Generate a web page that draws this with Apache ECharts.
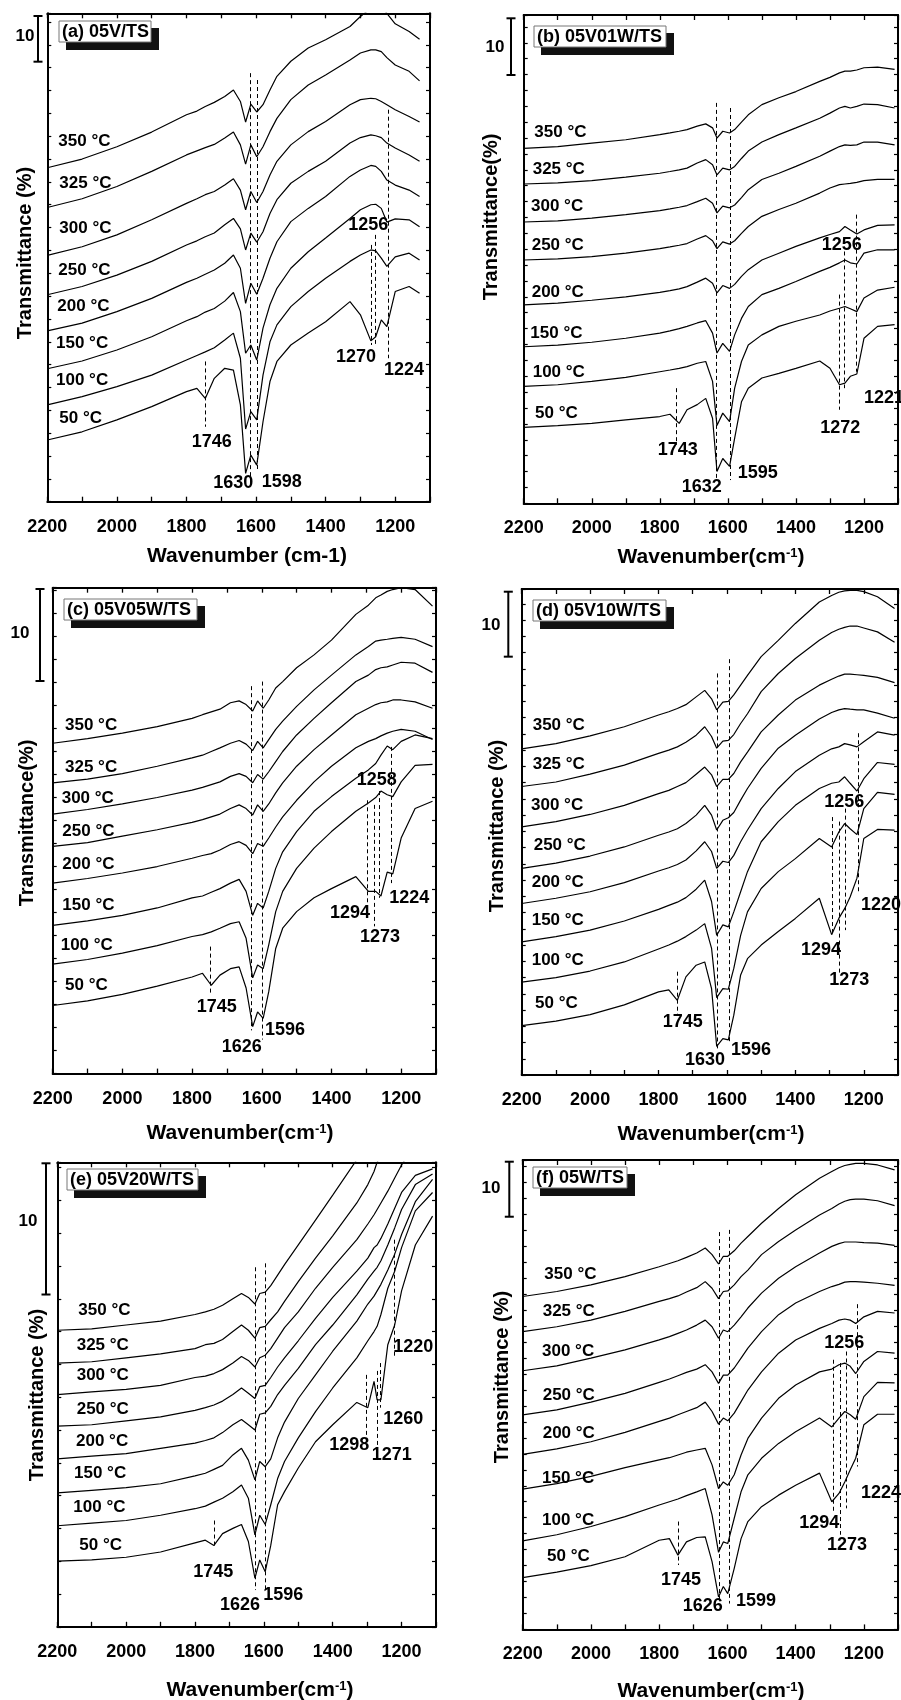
<!DOCTYPE html>
<html><head><meta charset="utf-8">
<script src="https://cdn.jsdelivr.net/npm/echarts/dist/echarts.min.js"></script>
<style>html,body{margin:0;padding:0;background:#fff}#c{width:901px;height:1700px}</style>
</head><body><div id="c"></div>
<script>
// ---------------- DATA ----------------
const tempLabels = ['350 °C','325 °C','300 °C','250 °C','200 °C','150 °C','100 °C','50 °C'];

// (a) 05V/TS
const wnA = [2200,2100,2000,1900,1800,1770,1746,1720,1690,1665,1645,1630,1615,1598,1580,1560,1540,1500,1450,1400,1330,1300,1270,1256,1240,1224,1200,1160,1130];
const a350 = [73.1,75.0,77.7,80.9,84.7,85.5,86.5,87.4,88.7,90.1,87.6,83.1,87.0,85.3,86.9,90.1,93.1,96.4,99.3,101.1,104.0,106.2,108.0,108.6,108.4,106.9,104.6,102.9,101.2];
const a325 = [64.4,66.3,69.0,72.3,75.9,76.8,77.5,78.2,79.6,80.9,78.1,73.9,78.1,75.5,77.7,81.0,83.9,88.0,91.2,93.4,96.7,98.2,98.9,98.9,98.5,97.2,95.6,94.2,92.1];
const a300 = [53.9,55.8,58.4,61.7,65.3,66.3,67.2,67.9,69.3,70.7,68.2,63.9,67.9,65.5,67.9,71.5,74.5,78.1,81.0,83.2,86.9,88.0,88.3,88.2,87.6,86.9,85.8,84.3,83.1];
const a250 = [45.3,47.1,49.6,52.6,56.2,57.1,58.0,58.8,60.6,62.0,59.7,55.1,58.8,56.8,59.1,63.1,66.1,69.7,72.3,74.5,78.5,79.7,80.3,80.1,79.7,78.5,77.4,75.9,74.5];
const a200 = [37.4,39.1,41.6,44.5,48.0,48.9,49.8,50.7,52.2,54.0,51.1,43.4,47.8,45.4,48.9,53.3,56.9,61.3,64.2,66.8,71.2,72.6,73.6,73.4,72.3,70.4,69.3,68.2,66.8];
const a150 = [29.1,30.8,33.2,36.1,39.6,40.5,41.5,42.3,43.9,45.8,41.6,32.5,34.3,31.0,38.0,43.1,46.7,51.1,54.7,57.7,62.0,63.9,65.0,65.1,64.2,61.2,61.9,61.7,60.2];
const a100 = [21.2,23.0,25.2,27.7,31.0,32.0,32.8,33.7,35.4,36.9,31.4,15.9,19.7,17.9,27.7,35.0,38.7,42.7,46.0,48.9,52.6,54.0,55.1,54.9,53.3,51.5,53.6,54.4,52.9];
const a50  = [13.5,15.3,17.9,20.8,24.1,24.8,22.6,27.0,29.2,28.8,21.2,6.2,10.2,8.0,17.5,26.3,30.7,34.3,36.9,39.4,43.8,40.9,35.2,36.1,39.8,38.3,46.0,47.1,45.6];
const dashA = [[1618,93.8,3.6],[1596,92.3,6.6],[1746,30.7,16.4],[1270,56.2,34.3],[1258,58.4,33.9],[1219,85.8,31.4]];
const peakA = ['1746','1630','1598','1270','1224','1256'];

// (b) 05V01W/TS
const wnB = [2200,2100,2000,1900,1800,1770,1743,1720,1690,1665,1645,1632,1615,1595,1580,1560,1540,1500,1450,1400,1330,1300,1272,1256,1240,1221,1200,1160,1110];
const b350 = [62.6,62.9,63.5,64.1,65.0,65.3,65.6,65.9,66.5,66.9,66.2,64.4,65.6,65.3,65.9,67.2,68.5,70.3,71.5,72.6,74.4,75.1,75.9,76.2,76.2,76.4,76.8,76.9,76.5];
const b325 = [56.3,56.5,56.9,57.5,58.2,58.5,58.8,59.1,60.0,60.6,59.7,57.9,59.1,58.8,59.4,60.8,62.1,63.7,65.0,66.2,67.9,68.8,69.7,70.0,69.7,70.0,70.4,70.3,69.7];
const b300 = [49.6,49.8,50.3,50.9,51.6,51.9,52.2,52.5,53.2,53.8,52.9,51.2,52.4,52.1,52.6,53.9,55.3,57.1,58.2,59.4,61.2,62.1,62.9,63.2,63.1,63.2,63.7,63.7,63.2];
const b250 = [42.9,43.1,43.5,44.1,44.9,45.2,45.5,45.8,46.6,47.2,46.3,44.9,46.1,45.7,46.3,47.6,48.8,50.6,51.8,52.9,54.7,55.6,56.2,56.3,56.4,56.6,56.9,57.1,57.1];
const b200 = [35.0,35.3,35.8,36.4,37.2,37.5,37.8,38.2,39.0,39.7,38.8,37.1,38.4,37.9,38.6,40.0,41.2,42.9,44.1,45.3,46.8,47.4,47.9,48.8,48.2,47.5,48.2,49.0,49.1];
const b150 = [27.6,27.9,28.4,29.1,30.0,30.4,30.8,31.2,31.8,32.2,30.0,26.5,28.2,26.8,29.7,32.6,34.7,36.8,37.9,39.1,40.9,41.6,42.4,42.9,42.4,42.2,44.1,44.7,44.7];
const b100 = [20.6,20.9,21.5,22.2,23.2,23.5,23.8,24.1,24.7,25.0,21.5,13.7,15.9,14.4,20.3,25.0,27.9,29.7,31.2,32.1,33.2,33.9,34.4,34.7,34.3,33.8,36.2,37.6,38.1];
const b50  = [13.4,13.7,14.1,14.7,15.3,15.7,14.1,16.5,17.4,18.5,15.0,5.6,7.9,6.5,11.5,17.9,20.3,22.1,22.9,23.8,25.1,23.8,20.9,21.2,22.4,22.8,29.1,31.2,31.5];
const dashB = [[1634,70.6,4.4],[1593,69.7,4.1],[1752,20.3,10.3],[1274,36.8,16.5],[1258,44.4,20.3],[1224,50.9,23.2]];
const peakB = ['1743','1632','1595','1272','1256','1221'];

// (c) 05V05W/TS
const wnC = [2200,2100,2000,1900,1800,1770,1745,1720,1690,1665,1645,1626,1612,1596,1580,1560,1540,1500,1450,1400,1330,1294,1273,1258,1240,1224,1200,1160,1110];
const c350 = [35.9,36.4,37.0,37.7,38.6,39.0,39.3,39.6,40.3,40.5,40.1,39.4,40.5,39.7,40.6,41.9,42.6,44.1,45.5,47.1,49.9,50.9,51.7,52.0,52.4,52.6,52.8,52.6,50.8];
const c325 = [31.6,32.0,32.6,33.4,34.3,34.6,35.0,35.4,35.9,36.2,35.8,35.1,36.1,35.4,36.3,37.4,38.3,39.9,41.7,43.3,45.5,46.4,47.0,47.1,47.2,47.3,47.4,47.2,46.4];
const c300 = [28.2,28.7,29.3,30.0,30.8,31.1,31.4,31.7,32.3,32.6,32.3,31.6,32.5,32.0,32.8,33.9,35.0,36.8,38.6,40.3,42.6,43.3,43.9,44.1,44.2,44.4,44.7,44.6,43.6];
const c250 = [24.7,25.1,25.8,26.5,27.3,27.6,27.9,28.2,28.8,29.2,28.8,28.1,29.2,28.5,29.3,30.5,31.6,33.4,35.2,36.8,39.0,39.7,40.1,40.3,40.4,40.6,40.6,40.4,39.7];
const c200 = [20.7,21.2,21.8,22.5,23.4,23.7,23.9,24.3,24.9,25.2,24.8,23.9,25.0,24.7,25.6,26.8,27.9,29.7,31.7,33.4,35.4,36.1,36.4,36.7,37.0,37.2,37.4,37.2,36.3];
const c150 = [16.1,16.6,17.2,18.0,19.1,19.3,19.7,20.1,20.7,21.1,19.8,17.2,18.5,18.0,19.8,22.3,24.1,26.3,28.5,30.1,32.1,33.0,33.7,34.6,35.6,35.2,36.1,36.8,36.4];
const c100 = [11.9,12.4,13.1,13.9,14.9,15.1,15.4,15.8,16.3,16.5,14.7,10.4,11.8,11.4,14.0,17.6,19.8,22.3,24.5,26.3,28.5,29.4,30.0,30.7,30.3,30.1,31.7,33.5,33.6];
const c50  = [7.4,7.9,8.6,9.5,10.5,10.9,9.6,10.7,11.4,11.6,9.3,5.1,6.7,6.0,8.9,13.6,15.8,17.6,19.1,20.1,21.4,19.8,19.8,19.3,21.9,21.7,25.6,28.8,29.6];
const dashC = [[1630,42.1,4.7],[1599,42.6,3.7],[1748,13.8,8.7],[1296,29.7,18.0],[1277,29.2,16.0],[1263,30.7,19.1],[1228,35.5,20.7]];
const peakC = ['1745','1626','1596','1294','1273','1258','1224'];

// (d) 05V10W/TS
const wnD = [2200,2100,2000,1900,1800,1770,1745,1720,1690,1665,1645,1630,1612,1596,1580,1560,1540,1500,1450,1400,1330,1294,1273,1256,1240,1220,1200,1160,1110];
const d350 = [50.2,51.0,52.2,53.6,55.4,55.9,56.4,57.0,58.2,59.2,57.9,56.2,57.4,57.5,58.5,60.0,61.5,64.4,66.9,69.5,72.8,73.8,74.3,74.5,74.6,74.6,74.4,73.6,71.8];
const d325 = [44.4,45.1,46.3,47.7,49.5,50.0,50.5,51.2,52.3,53.6,52.1,50.3,51.4,51.5,52.4,54.1,55.6,59.0,61.8,64.1,66.9,68.1,68.6,68.9,69.1,69.1,68.8,68.2,66.6];
const d300 = [38.2,39.0,40.1,41.5,43.3,43.8,44.4,45.0,46.3,47.4,46.2,44.4,45.5,45.5,46.4,48.2,49.7,52.8,55.4,57.7,60.0,60.9,61.4,61.7,61.7,61.6,61.5,61.2,60.4];
const d250 = [31.8,32.6,33.7,35.1,36.9,37.4,37.9,38.7,40.0,41.5,40.0,37.7,39.2,39.6,40.4,42.3,44.1,47.2,50.3,52.3,54.8,55.8,56.2,56.4,56.3,56.2,56.2,55.7,54.9];
const d200 = [26.4,27.2,28.2,29.6,31.4,31.9,32.4,33.1,34.5,35.9,34.4,31.8,32.9,32.7,33.8,35.9,37.7,41.0,44.1,46.7,49.2,50.2,50.5,51.0,50.8,50.5,51.3,52.8,52.3];
const d150 = [20.5,21.3,22.3,23.7,25.5,26.1,26.6,27.3,28.6,30.0,26.7,21.5,23.1,22.8,25.1,28.2,31.3,35.9,39.0,41.5,44.1,44.9,45.1,45.9,44.9,43.7,45.6,48.1,47.8];
const d100 = [14.3,15.0,16.0,17.4,19.4,20.0,20.6,21.3,22.3,23.3,19.5,11.9,13.3,13.2,16.4,21.5,25.1,28.7,31.3,33.3,36.4,35.1,37.4,38.7,37.9,37.0,41.0,43.5,43.2];
const d50  = [7.6,8.3,9.3,10.8,12.8,13.1,11.5,15.1,16.9,17.4,13.3,4.4,5.6,5.4,9.2,15.4,17.9,20.0,22.1,24.1,27.2,21.6,24.1,25.6,27.4,30.3,36.4,37.8,37.7];
const dashD = [[1629,61.8,4.1],[1593,64.0,5.1],[1744,15.9,9.2],[1293,39.7,21.8],[1272,39.0,15.6],[1255,41.0,22.3],[1217,52.6,27.9]];
const peakD = ['1745','1630','1596','1294','1273','1256','1220'];

// (e) 05V20W/TS
const wnE = [2200,2100,2000,1900,1800,1770,1745,1720,1690,1665,1645,1626,1612,1596,1580,1560,1540,1500,1450,1400,1330,1298,1280,1271,1260,1240,1220,1200,1160,1110];
const e350 = [22.6,22.7,23.0,23.3,23.8,24.0,24.2,24.5,25.0,25.4,25.1,24.6,25.4,25.5,26.0,26.8,27.6,29.1,31.0,32.9,35.6,null,null,null,null,null,null,null,null,null];
const e325 = [20.1,20.2,20.5,20.8,21.2,21.5,21.6,21.9,22.5,23.0,22.6,22.0,22.8,22.9,23.4,24.0,24.8,26.3,28.1,29.8,32.3,33.7,34.7,35.4,35.9,null,null,null,null,null];
const e300 = [17.7,17.9,18.1,18.4,19.0,19.1,19.3,19.6,20.1,20.6,20.3,19.8,20.5,20.7,21.2,22.0,22.8,24.0,25.8,27.4,29.5,30.7,31.4,31.8,32.3,33.2,34.2,35.2,36.8,null];
const e250 = [15.3,15.4,15.7,16.0,16.5,16.7,16.9,17.2,17.7,18.2,17.8,17.4,18.3,18.4,19.0,19.8,20.5,21.8,23.5,25.1,27.1,28.1,28.9,29.1,29.6,30.7,31.9,33.1,34.4,34.9];
const e200 = [12.8,13.0,13.2,13.6,14.0,14.2,14.4,14.8,15.4,15.8,15.4,15.0,16.2,16.3,16.8,17.7,18.4,19.7,21.5,23.0,25.3,26.5,27.1,27.4,27.9,29.1,30.4,31.8,33.7,34.5];
const e150 = [10.2,10.4,10.6,10.9,11.5,11.7,12.0,12.3,13.1,13.6,12.7,11.2,12.6,12.2,12.8,14.4,15.6,17.4,19.2,21.0,23.3,24.6,25.2,25.6,26.1,27.2,28.4,29.9,32.4,34.1];
const e100 = [7.7,7.9,8.1,8.5,9.0,9.2,9.5,9.8,10.3,10.8,9.8,7.0,8.5,7.8,9.3,11.3,12.6,14.4,16.4,18.2,20.5,21.8,22.5,22.9,23.8,25.8,27.1,28.9,31.7,33.1];
const e50  = [5.0,5.1,5.3,5.7,6.4,6.6,6.2,7.1,7.5,7.8,6.5,3.7,5.1,4.2,6.2,9.3,10.3,12.1,14.1,15.4,17.1,16.7,18.7,17.3,17.3,21.5,23.0,25.6,29.1,31.3];
const dashE = [[1626,27.4,2.8],[1596,27.7,2.7],[1745,8.1,6.0],[1303,19.2,14.4],[1272,19.5,13.6],[1261,20.1,16.7],[1220,29.5,20.6]];
const peakE = ['1745','1626','1596','1298','1271','1260','1220'];

// (f) 05W/TS
const wnF = [2200,2100,2000,1900,1800,1770,1745,1720,1690,1665,1645,1626,1612,1599,1580,1560,1540,1500,1450,1400,1330,1294,1273,1256,1240,1224,1200,1160,1110];
const f350 = [60.5,61.4,62.6,64.1,65.9,66.5,67.0,67.6,68.4,69.3,68.1,66.4,67.8,67.8,68.8,70.2,71.4,73.8,76.5,79.0,82.0,83.2,83.9,84.3,84.5,84.7,84.7,84.4,83.5];
const f325 = [54.1,55.0,56.2,57.8,59.6,60.1,60.6,61.3,62.1,63.2,62.0,60.1,61.4,61.5,62.6,64.1,65.3,68.1,70.5,72.6,75.3,76.5,77.3,77.8,78.1,78.2,78.2,77.9,77.0];
const f300 = [47.0,47.9,49.3,50.8,52.6,53.2,53.8,54.4,55.3,56.2,55.0,52.9,54.4,54.1,55.3,56.8,58.4,61.1,63.8,65.9,68.4,69.6,70.1,70.4,70.4,70.4,70.3,70.2,69.8];
const f250 = [39.0,39.9,41.3,42.9,44.9,45.5,46.1,46.7,47.3,48.1,46.8,44.7,46.2,46.2,47.5,49.3,51.1,54.1,57.2,59.3,61.4,62.3,62.7,63.1,63.2,63.2,63.1,62.9,62.5];
const f200 = [31.8,32.8,34.1,35.8,37.8,38.4,39.0,39.6,40.3,41.3,39.6,37.3,38.4,37.9,39.3,41.4,43.5,46.8,50.2,52.6,54.7,55.6,56.2,56.4,56.2,55.6,56.8,57.8,57.5];
const f150 = [25.5,26.5,27.8,29.4,30.8,31.2,31.7,32.2,32.6,32.9,29.9,25.6,26.8,26.2,28.1,31.7,34.7,38.4,42.0,44.4,46.8,47.3,48.1,48.4,47.8,46.5,48.7,50.5,50.2];
const f100 = [16.1,17.2,18.7,20.5,22.6,23.2,23.7,24.3,25.0,25.6,20.8,14.0,15.9,15.6,20.2,25.0,28.1,31.1,33.8,35.9,38.4,36.8,38.4,39.6,39.0,38.2,42.3,44.9,44.8];
const f50  = [9.4,10.4,11.6,13.2,16.2,16.5,13.5,15.9,16.7,16.8,12.3,5.9,7.8,6.5,11.1,16.5,19.6,22.3,24.4,26.2,28.4,23.2,24.7,26.8,29.0,31.1,37.2,39.1,39.1];
const dashF = [[1623,72.2,5.2],[1596,72.6,4.7],[1743,19.6,11.7],[1289,49.0,21.4],[1268,48.4,17.2],[1253,50.5,22.0],[1220,59.1,29.6]];
const peakF = ['1745','1626','1599','1294','1273','1256','1224'];

// ---------------- LAYOUT ----------------
const FONT = '"Liberation Sans", Arial, Helvetica, sans-serif';
const panels = [
 {title:'(a) 05V/TS', wn:wnA, vals:[a350,a325,a300,a250,a200,a150,a100,a50], dash:dashA, peaks:peakA,
  g:{left:47.3, top:13.3, width:382.7, height:488.4}, ymax:106.9, yint:5,
  bar:[38,16], ten:[25,36], tbox:[59,21,92],
  tpos:[[58.3,141],[59.3,183.3],[59.3,228.3],[58.3,270],[57.3,306.7],[56,343.3],[56,380],[59.3,418.3]],
  ppos:[[211.7,442.3],[233.3,483.3],[281.7,482.3],[356,357.3],[404,370],[368.3,225]],
  xt:[247,556,false], yt:[25,253,'Transmittance (%)']},
 {title:'(b) 05V01W/TS', wn:wnB, vals:[b350,b325,b300,b250,b200,b150,b100,b50], dash:dashB, peaks:peakB,
  g:{left:523.7, top:15, width:382, height:488.3}, ymax:86.1, yint:2.8,
  bar:[511,18.3], ten:[495,47], tbox:[534,26,132],
  tpos:[[534.3,132.7],[532.7,169],[531,206.7],[531.7,245.7],[531.7,292.3],[530.3,333.3],[532.7,372.3],[535,413.3]],
  ppos:[[677.7,450],[701.7,486.7],[757.7,473.3],[840.3,427.7],[841.7,245],[884,397.7]],
  xt:[711,557,true], yt:[491,217,'Transmittance(%)']},
 {title:'(c) 05V05W/TS', wn:wnC, vals:[c350,c325,c300,c250,c200,c150,c100,c50], dash:dashC, peaks:peakC,
  g:{left:52.7, top:587.7, width:383.3, height:485.9}, ymax:52.8, yint:2.5,
  bar:[40,589], ten:[20,633], tbox:[64,599,133],
  tpos:[[65,725.7],[65,767.7],[61.7,798.3],[62.3,831],[62.3,864.3],[62.3,905],[60.7,945],[65,985]],
  ppos:[[216.7,1006.7],[241.7,1046.7],[285,1030],[350,913.3],[380,936.7],[376.7,780],[409.3,897.7]],
  xt:[240,1133,true], yt:[27,823,'Transmittance(%)']},
 {title:'(d) 05V10W/TS', wn:wnD, vals:[d350,d325,d300,d250,d200,d150,d100,d50], dash:dashD, peaks:peakD,
  g:{left:521.7, top:589, width:382.8, height:486}, ymax:74.8, yint:2.5,
  bar:[508.3,591.7], ten:[491,625], tbox:[533,600,133],
  tpos:[[532.7,725.7],[532.7,764.3],[531,805],[533.7,845.7],[531.7,882.3],[531.7,920],[531.7,960],[535,1003.3]],
  ppos:[[682.7,1021.7],[705,1060],[751,1050],[821,950],[849.3,980],[844.3,802.3],[881,905]],
  xt:[711,1134,true], yt:[497,826,'Transmittance (%)']},
 {title:'(e) 05V20W/TS', wn:wnE, vals:[e350,e325,e300,e250,e200,e150,e100,e50], dash:dashE, peaks:peakE,
  g:{left:57.3, top:1162.3, width:378.7, height:464.5}, ymax:35.4, yint:2.5,
  bar:[46,1163.3], ten:[28,1221], tbox:[67,1169,131],
  tpos:[[78.3,1310],[76.7,1345.7],[76.7,1375.7],[76.7,1409],[76,1441.7],[74,1473.3],[73.3,1507.7],[79.3,1545]],
  ppos:[[213.3,1572.3],[240,1604.6],[283.3,1595.4],[349.3,1445],[391.7,1455],[403.3,1419],[413.3,1346.7]],
  xt:[260,1690,true], yt:[37,1395,'Transmittance (%)']},
 {title:'(f) 05W/TS', wn:wnF, vals:[f350,f325,f300,f250,f200,f150,f100,f50], dash:dashF, peaks:peakF,
  g:{left:522.7, top:1160, width:382.3, height:469.4}, ymax:85.3, yint:2.9,
  bar:[509.3,1161.7], ten:[491,1188], tbox:[533,1167,94],
  tpos:[[544.3,1274.3],[542.7,1311.7],[542,1351],[542.7,1395.7],[542.7,1433.3],[542,1478.3],[542,1520],[547,1556.7]],
  ppos:[[681,1580],[702.7,1606.5],[756,1601],[819.3,1523.3],[847,1545],[844.3,1343.3],[881,1492.7]],
  xt:[711,1691,true], yt:[502,1377,'Transmittance (%)']}
];

// ---------------- BUILD ----------------
const chart = echarts.init(document.getElementById('c'), null, {renderer:'canvas', width:901, height:1700});
const grid = [], xAxis = [], yAxis = [], series = [], graphic = [];

function txt(x, y, text, size, align, extra) {
  const el = {type:'text', x:x, y:y, z:60, silent:true,
    style:{text:text, fontSize:size, fontWeight:'bold', fontFamily:FONT, fill:'#000',
      align:align, verticalAlign:'middle', textAlign:align, textVerticalAlign:'middle'}};
  if (extra) Object.assign(el, extra);
  return el;
}

panels.forEach((p, i) => {
  grid.push({left:p.g.left, top:p.g.top, width:p.g.width, height:p.g.height, containLabel:false});
  const axLine = {show:true, onZero:false, lineStyle:{color:'#000', width:2}};
  const tick = {show:true, inside:true, length:5, lineStyle:{color:'#000', width:1.3}};
  xAxis.push({gridIndex:i, type:'value', position:'bottom', min:1100, max:2200, interval:100, inverse:true,
    axisLine:axLine, axisTick:tick, splitLine:{show:false},
    axisLabel:{show:true, margin:16, color:'#000', fontSize:18, fontWeight:'bold', fontFamily:FONT,
      formatter:(v)=> (v % 200 === 0 ? String(v) : '')}});
  xAxis.push({gridIndex:i, type:'value', position:'top', min:1100, max:2200, interval:100, inverse:true,
    axisLine:axLine, axisTick:tick, splitLine:{show:false}, axisLabel:{show:false}});
  const yt = {show:true, inside:true, length:4, lineStyle:{color:'#000', width:1.2}};
  yAxis.push({gridIndex:i, type:'value', position:'left', min:0, max:p.ymax, interval:p.yint,
    axisLine:axLine, axisTick:yt, splitLine:{show:false}, axisLabel:{show:false}});
  yAxis.push({gridIndex:i, type:'value', position:'right', min:0, max:p.ymax, interval:p.yint,
    axisLine:axLine, axisTick:yt, splitLine:{show:false}, axisLabel:{show:false}});

  p.vals.forEach((vals, j) => {
    const s = {type:'line', xAxisIndex:2*i, yAxisIndex:2*i, symbol:'none', showSymbol:false,
      silent:true, animation:false, clip:true, connectNulls:false,
      lineStyle:{color:'#000', width:1.2},
      data:p.wn.map((w, k) => [w, vals[k]])};
    if (j === 0) {
      s.markLine = {silent:true, symbol:['none','none'], animation:false, label:{show:false},
        lineStyle:{color:'#000', width:1, type:[4,3]},
        data:p.dash.map(d => [{coord:[d[0], d[1]]}, {coord:[d[0], d[2]]}])};
    }
    series.push(s);
  });

  p.tpos.forEach((pos, j) => graphic.push(txt(pos[0], pos[1], tempLabels[j], 17, 'left')));
  p.ppos.forEach((pos, j) => graphic.push(txt(pos[0], pos[1], p.peaks[j], 18, 'center')));
  const barLen = 10 * p.g.height / p.ymax;
  const bx = p.bar[0], by = p.bar[1];
  graphic.push({type:'line', z:60, silent:true, shape:{x1:bx, y1:by, x2:bx, y2:by+barLen}, style:{stroke:'#000', lineWidth:2}});
  graphic.push({type:'line', z:60, silent:true, shape:{x1:bx-4.5, y1:by, x2:bx+4.5, y2:by}, style:{stroke:'#000', lineWidth:2}});
  graphic.push({type:'line', z:60, silent:true, shape:{x1:bx-4.5, y1:by+barLen, x2:bx+4.5, y2:by+barLen}, style:{stroke:'#000', lineWidth:2}});
  graphic.push(txt(p.ten[0], p.ten[1], '10', 17, 'center'));
  const tb = p.tbox;
  graphic.push({type:'rect', z:55, silent:true, shape:{x:tb[0]+7, y:tb[1]+7, width:tb[2]+1, height:22}, style:{fill:'#111'}});
  graphic.push({type:'rect', z:56, silent:true, shape:{x:tb[0], y:tb[1], width:tb[2], height:21}, style:{fill:'#fff', stroke:'#777', lineWidth:1}});
  graphic.push(txt(tb[0]+3, tb[1]+11, p.title, 18, 'left'));
  if (p.xt[2]) {
    graphic.push({type:'text', x:p.xt[0], y:p.xt[1], z:60, silent:true,
      style:{text:'Wavenumber(cm{s|-1})', fontSize:21, fontWeight:'bold', fontFamily:FONT, fill:'#000',
        align:'center', verticalAlign:'middle', textAlign:'center', textVerticalAlign:'middle',
        rich:{s:{fontSize:13, fontWeight:'bold', fontFamily:FONT, fill:'#000', verticalAlign:'top', lineHeight:13, padding:[0,0,10,0]}}}});
  } else {
    graphic.push(txt(p.xt[0], p.xt[1], 'Wavenumber (cm-1)', 21, 'center'));
  }
  graphic.push(txt(p.yt[0], p.yt[1], p.yt[2], 20, 'center', {rotation: Math.PI/2}));
});

chart.setOption({
  backgroundColor:'#fff',
  animation:false,
  grid:grid, xAxis:xAxis, yAxis:yAxis, series:series, graphic:{elements:graphic}
});
</script></body></html>
